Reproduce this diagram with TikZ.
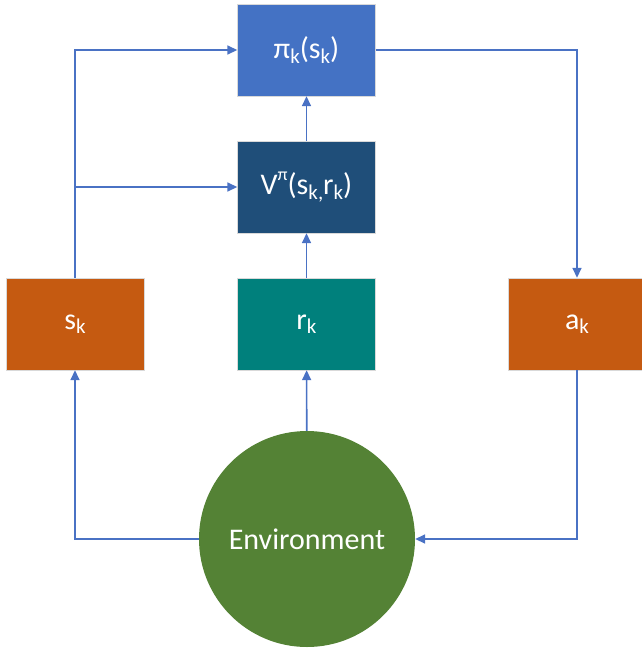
\documentclass[tikz,border=0pt]{standalone}
\usepackage{fontspec}
\setmainfont{Carlito}
\usetikzlibrary{arrows.meta}
\definecolor{lineblue}{HTML}{4A72C4}
\definecolor{policyblue}{HTML}{4472C4}
\definecolor{valueblue}{HTML}{1F4E79}
\definecolor{rewardteal}{HTML}{00807C}
\definecolor{stateorange}{HTML}{C55A11}
\definecolor{envgreen}{HTML}{548235}
\newcommand\lowidx[1]{\raisebox{-0.3ex}{\fontsize{21}{21}\selectfont #1}}
\newcommand\highidx[1]{\raisebox{1.0ex}{\fontsize{18}{18}\selectfont #1}}
\tikzset{
  blockbox/.style={rectangle, minimum width=138pt, minimum height=92pt, inner sep=0pt,
    draw=white!85!black, line width=0.4pt, text=white, font=\fontsize{30}{30}\selectfont},
  flow/.style={draw=lineblue, line width=1.6pt, -{Triangle[length=10pt,width=9pt]}},
  plain/.style={draw=lineblue, line width=1.6pt}
}
\begin{document}
\begin{tikzpicture}[x=1pt,y=-1pt]
\useasboundingbox (0,0) rectangle (642,649);
% blocks
\node[blockbox, fill=policyblue] (pi) at (306.5,50) {π\lowidx{k}(s\lowidx{k})};
\node[blockbox, fill=valueblue] (val) at (306.5,187) {V\highidx{π}(s\lowidx{k,}r\lowidx{k})};
\node[blockbox, fill=rewardteal] (rew) at (306.5,324) {r\lowidx{k}};
\node[blockbox, fill=stateorange] (st) at (75,324) {s\lowidx{k}};
\node[blockbox, fill=stateorange] (act) at (577,324) {a\lowidx{k}};
\node[circle, fill=envgreen, minimum size=216pt, inner sep=0pt, text=white,
  font=\fontsize{30}{30}\selectfont] (env) at (307,539) {Environment};
% helper points
\coordinate (stTop) at (75,50);
\coordinate (stMid) at (75,187);
\coordinate (stLow) at (75,539);
\coordinate (actTop) at (577,50);
\coordinate (actLow) at (577,539);
% connectors
\draw[flow] (rew) -- (val);
\draw[flow] (val) -- (pi);
\draw[flow] (env) -- (rew);
\draw[flow] (st.north) -- (stTop) -- (pi.west);
\draw[flow] (stMid) -- (val.west);
\draw[flow] (pi.east) -- (actTop) -- (act.north);
\draw[flow] (act.south) -- (actLow) -- (env.east);
\draw[flow] (env.west) -- (stLow) -- (st.south);
\end{tikzpicture}
\end{document}
